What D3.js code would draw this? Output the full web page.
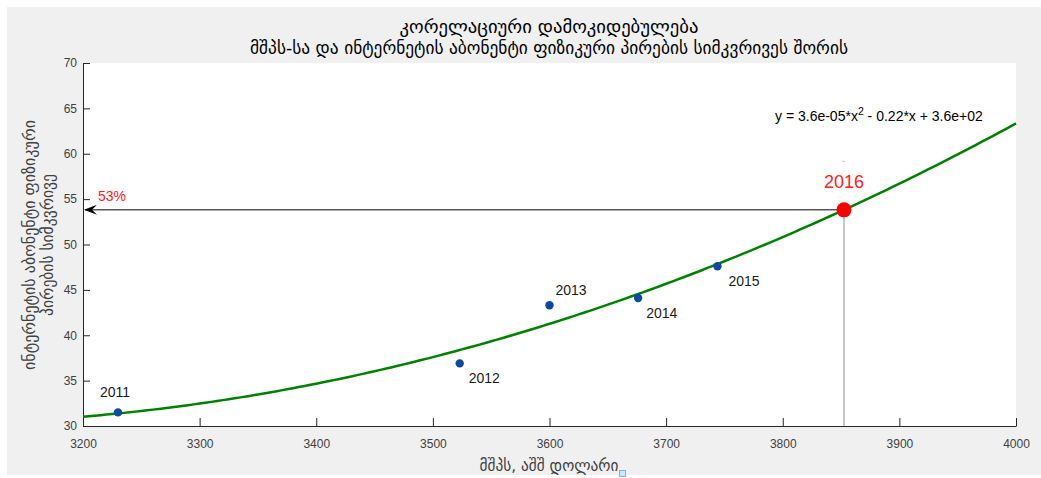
<!DOCTYPE html>
<html>
<head>
<meta charset="utf-8">
<script src="https://cdn.jsdelivr.net/npm/d3@7"></script>
<style>
  html, body { margin: 0; padding: 0; background: #ffffff; }
  svg { display: block; }
</style>
</head>
<body>
<svg id="chart" width="1041" height="478"></svg>
<script>
// Observed years, GDP per capita (USD) and internet subscriber density
const years = ["2011", "2012", "2013", "2014", "2015"];
const gdp = [3230, 3523, 3600, 3676, 3744];
const density = [31.5, 36.9, 43.3, 44.1, 47.6];

// Forecast point
const forecastYear = "2016";
const forecastGdp = 3852.5;
const forecastLabel = "53%";

// Axis ticks
const xTicks = [3200, 3300, 3400, 3500, 3600, 3700, 3800, 3900, 4000];
const yTicks = [30, 35, 40, 45, 50, 55, 60, 65, 70];

const titleLines = ["კორელაციური დამოკიდებულება", "მშპს-სა და ინტერნეტის აბონენტი ფიზიკური პირების სიმკვრივეს შორის"];
const yLabelLines = ["ინტერნეტის აბონენტი ფიზიკური", "პირების სიმკვრივე"];
const xLabel = "მშპს, აშშ დოლარი";

// Least-squares quadratic fit (centred for numerical stability)
function polyfit2(xs, ys) {
  const x0 = 3600, s = 100;
  const u = xs.map(v => (v - x0) / s);
  let S = [0, 0, 0, 0, 0], T = [0, 0, 0];
  u.forEach((ui, i) => {
    for (let k = 0; k < 5; k++) S[k] += Math.pow(ui, k);
    for (let k = 0; k < 3; k++) T[k] += Math.pow(ui, k) * ys[i];
  });
  const M = [[S[0], S[1], S[2], T[0]], [S[1], S[2], S[3], T[1]], [S[2], S[3], S[4], T[2]]];
  for (let i = 0; i < 3; i++) {
    for (let j = i + 1; j < 3; j++) {
      const f = M[j][i] / M[i][i];
      for (let k = i; k < 4; k++) M[j][k] -= f * M[i][k];
    }
  }
  const c = [0, 0, 0];
  for (let i = 2; i >= 0; i--) {
    let v = M[i][3];
    for (let k = i + 1; k < 3; k++) v -= M[i][k] * c[k];
    c[i] = v / M[i][i];
  }
  return x => { const t = (x - x0) / s; return c[0] + c[1] * t + c[2] * t * t; };
}
const fit = polyfit2(gdp, density);
const forecastValue = fit(forecastGdp);

const svg = d3.select("#chart");
const W = 1041, H = 478;
const plot = { left: 83, right: 1016, top: 63, bottom: 426 };

// Scale a text element's font size so that it spans the given width
function sizeToWidth(sel, width) {
  sel.each(function () {
    const base = parseFloat(this.getAttribute("font-size"));
    const w = this.getComputedTextLength();
    if (w > 0) this.setAttribute("font-size", (base * width / w).toFixed(2) + "px");
  });
}

// figure background
svg.append("rect").attr("x", 7).attr("y", 7).attr("width", W - 7).attr("height", 468).attr("fill", "#f0f0f0");
svg.append("rect").attr("x", plot.left).attr("y", plot.top)
  .attr("width", plot.right - plot.left).attr("height", plot.bottom - plot.top).attr("fill", "#ffffff");

const x = d3.scaleLinear().domain([3200, 4000]).range([plot.left, plot.right]);
const y = d3.scaleLinear().domain([30, 70]).range([plot.bottom, plot.top]);

const axisColor = "#262626";
const tickFont = "Liberation Sans, Arial, sans-serif";

// axes
const xAxis = svg.append("g").attr("transform", `translate(0,${plot.bottom})`)
  .call(d3.axisBottom(x).tickValues(xTicks).tickFormat(d3.format("d")).tickSizeInner(-8).tickSizeOuter(0).tickPadding(13));
const yAxis = svg.append("g").attr("transform", `translate(${plot.left},0)`)
  .call(d3.axisLeft(y).tickValues(yTicks).tickFormat(d3.format("d")).tickSizeInner(-7).tickSizeOuter(0).tickPadding(6));
[xAxis, yAxis].forEach(g => {
  g.select(".domain").attr("stroke", axisColor).attr("stroke-width", 1);
  g.selectAll(".tick line").attr("stroke", axisColor);
  g.selectAll(".tick text").attr("fill", "#404040").style("font-family", tickFont).style("font-size", "12px");
});

// fitted curve
const curvePts = d3.range(3200, 4000.01, 5).map(v => [v, fit(v)]);
svg.append("path").datum(curvePts)
  .attr("fill", "none").attr("stroke", "#008000").attr("stroke-width", 2.5)
  .attr("d", d3.line().x(d => x(d[0])).y(d => y(d[1])));

// observed points
const labelOffsets = [[-18, -15], [9, 20], [6, -10], [8, 20], [11, 20]];
svg.append("g").selectAll("circle").data(gdp).join("circle")
  .attr("cx", d => x(d)).attr("cy", (d, i) => y(density[i])).attr("r", 4.2)
  .attr("fill", "#0a4aa3");
svg.append("g").selectAll("text").data(years).join("text")
  .attr("x", (d, i) => x(gdp[i]) + labelOffsets[i][0])
  .attr("y", (d, i) => y(density[i]) + labelOffsets[i][1])
  .attr("font-family", tickFont).attr("font-size", "14px").attr("fill", "#1a1a1a")
  .text(d => d);

// forecast guides
const fx = x(forecastGdp), fy = y(forecastValue);
svg.append("line").attr("x1", fx).attr("x2", fx).attr("y1", fy).attr("y2", plot.bottom)
  .attr("stroke", "#8c8c8c").attr("stroke-width", 1);
svg.append("line").attr("x1", fx).attr("x2", plot.left + 2).attr("y1", fy).attr("y2", fy)
  .attr("stroke", "#000000").attr("stroke-width", 1);
svg.append("path")
  .attr("d", `M${plot.left + 1},${fy} L${plot.left + 14},${fy - 5} L${plot.left + 9},${fy} L${plot.left + 14},${fy + 5} Z`)
  .attr("fill", "#000000");
svg.append("text").attr("x", 98).attr("y", fy - 9)
  .attr("font-family", tickFont).attr("font-size", "14px").attr("fill", "#ff2020").text(forecastLabel);

// forecast point
svg.append("circle").attr("cx", fx).attr("cy", fy).attr("r", 7.5).attr("fill", "#ff0000");
svg.append("text").attr("x", fx).attr("y", fy - 22).attr("text-anchor", "middle")
  .attr("font-family", tickFont).attr("font-size", "18px").attr("fill", "#ff2020").text(forecastYear);
svg.append("rect").attr("x", fx - 1.5).attr("y", fy - 49).attr("width", 2).attr("height", 1).attr("fill", "#b0b0b0");

// fit equation
const eq = svg.append("text").attr("x", 775).attr("y", 121)
  .attr("font-family", tickFont).attr("font-size", "14px").attr("fill", "#000000");
eq.append("tspan").text("y = 3.6e-05*x");
eq.append("tspan").attr("dy", -6).attr("font-size", "10.5px").text("2");
eq.append("tspan").attr("dy", 6).text(" - 0.22*x + 3.6e+02");

// title
const geoFont = "DejaVu Sans, sans-serif";
const titleWidths = [299, 598];
svg.append("g").selectAll("text").data(titleLines).join("text")
  .attr("x", 549).attr("y", (d, i) => 33 + i * 21).attr("text-anchor", "middle")
  .attr("font-family", geoFont).attr("font-size", "15px").attr("fill", "#000000")
  .text(d => d)
  .each(function (d, i) { sizeToWidth(d3.select(this), titleWidths[i]); });

// y label
const yLabelWidths = [250, 142];
svg.append("g").attr("transform", "translate(0,245) rotate(-90)")
  .selectAll("text").data(yLabelLines).join("text")
  .attr("x", 0).attr("y", (d, i) => 35 + i * 18).attr("text-anchor", "middle")
  .attr("font-family", geoFont).attr("font-size", "14px").attr("fill", "#404040")
  .text(d => d)
  .each(function (d, i) { sizeToWidth(d3.select(this), yLabelWidths[i]); });

// x label
svg.append("text").attr("x", 549).attr("y", 471).attr("text-anchor", "middle")
  .attr("font-family", geoFont).attr("font-size", "14px").attr("fill", "#404040").text(xLabel)
  .call(sizeToWidth, 139);
svg.append("rect").attr("x", 619.5).attr("y", 470.5).attr("width", 6).attr("height", 6)
  .attr("fill", "#cfe5f8").attr("stroke", "#7fb2e0").attr("stroke-width", 1);
</script>
</body>
</html>
